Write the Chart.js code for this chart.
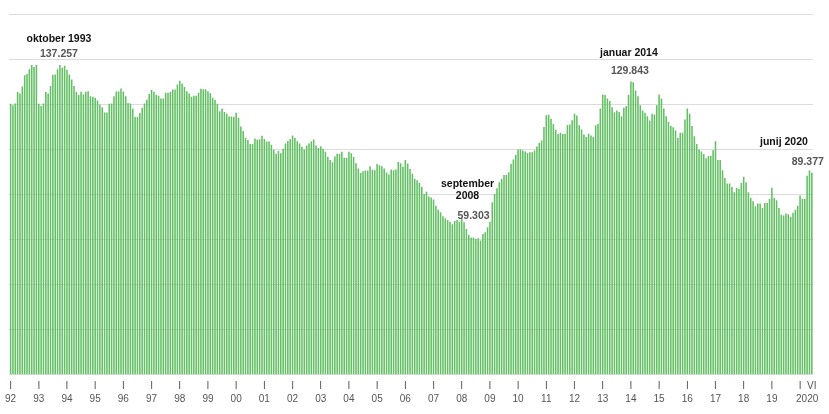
<!DOCTYPE html>
<html>
<head>
<meta charset="utf-8">
<script src="https://cdn.jsdelivr.net/npm/chart.js@4.4.1/dist/chart.umd.min.js"></script>
<style>
  html, body { margin: 0; padding: 0; background: #fff; }
</style>
</head>
<body>
<canvas id="myChart" width="829" height="414"></canvas>
<script>
// registrirane brezposelne osebe (v tisocih), mesecno
const years = ['1992', '1993', '1994', '1995', '1996', '1997', '1998', '1999', '2000', '2001',
  '2002', '2003', '2004', '2005', '2006', '2007', '2008', '2009', '2010', '2011', '2012',
  '2013', '2014', '2015', '2016', '2017', '2018', '2019', '2020'];
const months = ['I', 'II', 'III', 'IV', 'V', 'VI', 'VII', 'VIII', 'IX', 'X', 'XI', 'XII'];
const yearTicks = ['92', '93', '94', '95', '96', '97', '98', '99', '00', '01', '02', '03', '04',
  '05', '06', '07', '08', '09', '10', '11', '12', '13', '14', '15', '16', '17', '18', '19', '2020'];

const v1992 = [120.0, 119.3, 120.1, 125.2, 124.6, 127.7, 132.7, 133.2, 135.3, 137.2, 136.3, 137.2];
const v1993 = [120.0, 119.0, 120.1, 125.2, 124.6, 127.9, 132.9, 133.0, 135.3, 137.257, 136.0, 136.9];
const v1994 = [135.1, 133.0, 130.8, 127.9, 125.2, 123.9, 125.3, 124.1, 125.3, 125.6, 123.4, 123.1];
const v1995 = [122.7, 121.5, 119.7, 118.5, 116.1, 116.1, 120.0, 120.1, 123.4, 125.5, 125.5, 126.8];
const v1996 = [125.5, 123.4, 120.4, 120.1, 117.9, 114.1, 114.1, 115.9, 118.2, 120.1, 121.8, 124.4];
const v1997 = [126.2, 125.3, 123.9, 123.6, 122.4, 122.4, 124.9, 124.9, 125.2, 126.4, 126.4, 128.6];
const v1998 = [130.2, 129.0, 127.4, 125.6, 124.6, 123.1, 123.6, 123.6, 124.9, 126.7, 126.5, 126.5];
const v1999 = [125.6, 124.7, 122.7, 121.8, 120.0, 116.7, 117.9, 116.4, 115.6, 114.4, 114.4, 114.1];
const v2000 = [116.0, 113.8, 109.9, 107.9, 104.9, 103.9, 102.2, 102.2, 104.6, 104.0, 104.3, 105.8];
const v2001 = [104.4, 103.3, 103.3, 101.8, 99.6, 97.8, 99.0, 98.1, 100.1, 102.4, 103.5, 104.3];
const v2002 = [105.9, 104.9, 103.4, 102.4, 100.9, 99.7, 101.5, 102.4, 103.3, 104.1, 101.5, 100.4];
const v2003 = [101.2, 100.1, 98.7, 96.4, 95.0, 94.1, 96.6, 97.8, 97.8, 98.7, 96.0, 96.0];
const v2004 = [98.7, 98.1, 96.4, 93.6, 91.3, 89.3, 90.1, 90.4, 90.4, 92.3, 90.7, 90.5];
const v2005 = [93.3, 92.7, 92.3, 91.3, 89.5, 88.6, 90.8, 90.5, 90.8, 94.2, 93.6, 92.1];
const v2006 = [95.0, 93.5, 91.1, 88.9, 86.7, 86.1, 84.9, 83.1, 80.0, 81.0, 78.8, 78.4];
const v2007 = [77.5, 74.8, 73.0, 71.9, 70.1, 69.2, 68.4, 67.7, 66.5, 68.0, 68.4, 67.7];
const v2008 = [69.3, 67.4, 64.4, 61.8, 60.7, 60.7, 60.0, 60.3, 59.303, 62.2, 63.0, 65.2];
const v2009 = [67.7, 76.3, 80.0, 82.5, 85.2, 86.7, 88.4, 88.4, 89.6, 93.3, 95.3, 97.3];
const v2010 = [99.7, 99.7, 99.3, 98.8, 98.2, 98.5, 98.5, 99.3, 101.0, 102.6, 103.7, 109.7];
const v2011 = [114.9, 115.1, 113.4, 111.0, 108.5, 106.6, 107.1, 106.6, 106.6, 110.6, 110.8, 112.7];
const v2012 = [115.6, 114.8, 110.5, 108.6, 106.4, 105.3, 106.7, 105.9, 105.3, 110.5, 111.1, 117.9];
const v2013 = [124.1, 123.9, 122.4, 121.2, 118.5, 116.3, 117.0, 116.4, 114.5, 118.2, 119.0, 123.9];
const v2014 = [129.843, 129.6, 125.9, 123.4, 119.4, 117.0, 116.0, 114.5, 112.6, 115.6, 115.3, 119.4];
const v2015 = [124.1, 122.4, 117.9, 114.5, 112.0, 110.1, 109.6, 108.1, 104.9, 107.1, 107.1, 113.0];
const v2016 = [117.9, 115.6, 110.1, 105.6, 102.2, 99.6, 98.8, 97.7, 95.8, 96.8, 96.8, 99.4];
const v2017 = [103.4, 95.0, 95.0, 90.5, 87.1, 84.6, 84.6, 83.1, 80.7, 82.7, 82.2, 84.9];
const v2018 = [87.6, 85.2, 80.7, 78.2, 76.7, 74.5, 75.7, 75.7, 73.8, 76.0, 76.0, 77.8];
const v2019 = [82.7, 78.2, 77.2, 73.8, 70.8, 70.4, 71.3, 71.0, 69.8, 71.6, 73.0, 74.8];
const v2020 = [79.3, 77.8, 77.8, 88.1, 90.4, 89.377];

const yearValues = [v1992, v1993, v1994, v1995, v1996, v1997, v1998, v1999, v2000, v2001,
  v2002, v2003, v2004, v2005, v2006, v2007, v2008, v2009, v2010, v2011, v2012,
  v2013, v2014, v2015, v2016, v2017, v2018, v2019, v2020];

const noteIndex = [21, 200, 264, 341];
const noteTitles = [['oktober 1993'], ['september', '2008'], ['januar 2014'], ['junij 2020']];
const noteValues = ['137.257', '59.303', '129.843', '89.377'];

const labels = [];
const values = [];
yearValues.forEach((arr, y) => {
  arr.forEach((v, m) => {
    labels.push(months[m] + ' ' + years[y]);
    values.push(v);
  });
});

const lastIndex = values.length - 1;

function tickLabel(index) {
  if (index === lastIndex) return ['VI', ''];
  if (index === lastIndex - 2) return ['', yearTicks[yearTicks.length - 1]];
  if (index % 12 === 0) {
    const y = index / 12;
    if (y === yearTicks.length - 1) return ['I', ''];
    return ['I', yearTicks[y]];
  }
  return '';
}

// polozaj napisov glede na vrh stolpca (dx, dy in poravnava)
const noteLayout = [
  { tx: -1, ty: -26, vx: -1, vy: -11, align: 'center' },
  { tx: -13, ty: -57, vx: -7, vy: -25, align: 'center' },
  { tx: -2, ty: -29, vx: -1, vy: -11, align: 'center' },
  { tx: -4, ty: -31, vx: 12, vy: -11, align: 'right' }
];

const notesPlugin = {
  id: 'notes',
  afterDatasetsDraw(chart) {
    const ctx = chart.ctx;
    const xs = chart.scales.x;
    const ys = chart.scales.y;
    ctx.save();
    ctx.textBaseline = 'middle';
    noteIndex.forEach((idx, i) => {
      const x = xs.getPixelForValue(idx);
      const y = ys.getPixelForValue(values[idx]);
      const l = noteLayout[i];
      ctx.textAlign = l.align;
      ctx.font = 'bold 10.5px "Liberation Sans", Arial, sans-serif';
      ctx.fillStyle = '#111';
      noteTitles[i].forEach((t, j) => {
        ctx.fillText(t, x + l.tx, y + l.ty + j * 12);
      });
      ctx.fillStyle = '#555';
      ctx.fillText(noteValues[i], x + l.vx, y + l.vy);
    });
    ctx.restore();
  }
};

const ctx = document.getElementById('myChart').getContext('2d');
new Chart(ctx, {
  type: 'bar',
  data: {
    labels,
    datasets: [{
      data: values,
      backgroundColor: '#63bf63',
      barThickness: 0.9
    }]
  },
  options: {
    responsive: false,
    animation: false,
    layout: { padding: { left: 9, right: 16, top: 14, bottom: 3.5 } },
    plugins: {
      legend: { display: false },
      tooltip: { enabled: false }
    },
    scales: {
      x: {
        grid: { display: false, drawTicks: false },
        border: { display: false },
        ticks: {
          autoSkip: false,
          maxRotation: 0,
          minRotation: 0,
          padding: 5,
          color: '#555',
          font: { family: '"Liberation Sans", Arial, sans-serif', size: 10, lineHeight: 1.3 },
          callback: (value, index) => tickLabel(index)
        }
      },
      y: {
        min: 0,
        max: 160,
        ticks: { display: false, stepSize: 20 },
        grid: { color: '#dcdcdc', drawTicks: false },
        border: { display: false }
      }
    }
  },
  plugins: [notesPlugin]
});
</script>
</body>
</html>
